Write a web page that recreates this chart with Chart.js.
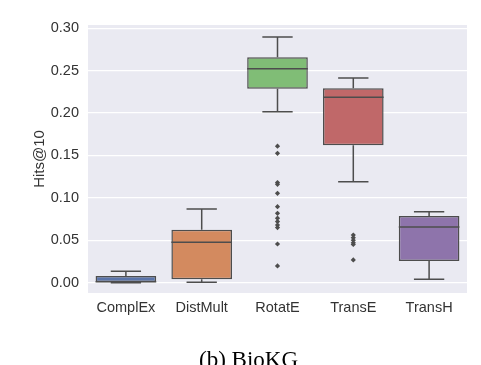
<!DOCTYPE html>
<html>
<head>
<meta charset="utf-8">
<script src="https://cdn.jsdelivr.net/npm/chart.js@4"></script>
<style>
  html, body { margin: 0; padding: 0; background: #fff; overflow: hidden; }
  #wrap { position: relative; width: 481px; height: 365px; }
  #caption {
    position: absolute; left: 0; top: 348px; width: 497px;
    text-align: center; font: 23px/23px "Liberation Serif", serif; color: #000;
  }
</style>
</head>
<body>
<div id="wrap">
  <canvas id="myChart" width="481" height="365"></canvas>
  <div id="caption">(b) BioKG</div>
</div>
<script>
var models = ['ComplEx', 'DistMult', 'RotatE', 'TransE', 'TransH'];
var whiskerLow  = [0.0000, 0.0005, 0.2017, 0.1190, 0.0040];
var boxLow      = [0.0000, 0.0040, 0.2288, 0.1620, 0.0256];
var medians     = [0.0010, 0.0476, 0.2524, 0.2186, 0.0657];
var boxHigh     = [0.0079, 0.0625, 0.2660, 0.2292, 0.0787];
var whiskerHigh = [0.0134, 0.0870, 0.2897, 0.2414, 0.0837];
var outliersRotatE = [0.161, 0.1526, 0.118, 0.116, 0.1054, 0.0896, 0.0818, 0.076, 0.072, 0.068, 0.065, 0.0456, 0.0197];
var outliersTransE = [0.0562, 0.053, 0.050, 0.047, 0.045, 0.0268];
var yTicks = [0, 0.05, 0.10, 0.15, 0.20, 0.25, 0.30];
var boxColors = ['#5a74aa', '#d38a5f', '#80bd76', '#c06869', '#8e74ab'];
var lineColor = '#4d4d4d';

var outlierPoints = [];
outliersRotatE.forEach(function(v) { outlierPoints.push({x: 'RotatE', y: v}); });
outliersTransE.forEach(function(v) { outlierPoints.push({x: 'TransE', y: v}); });

// grey seaborn-style panel behind the plot
var panel = {
    id: 'panel',
    beforeDraw: function(chart) {
        var a = chart.chartArea, ctx = chart.ctx;
        ctx.save();
        ctx.fillStyle = '#eaeaf2';
        ctx.fillRect(a.left, a.top, a.right - a.left, a.bottom - a.top);
        ctx.restore();
    }
};

// whiskers, caps and median lines
var whiskers = {
    id: 'whiskers',
    afterDatasetsDraw: function(chart) {
        var ctx = chart.ctx, xs = chart.scales.x, ys = chart.scales.y;
        var bars = chart.getDatasetMeta(0).data;
        ctx.save();
        ctx.strokeStyle = lineColor;
        ctx.lineWidth = 1.5;
        models.forEach(function(m, i) {
            var x = xs.getPixelForValue(i);
            var half = bars[i].width / 2;
            var cap = half / 2;
            ctx.beginPath();
            ctx.moveTo(x, ys.getPixelForValue(boxHigh[i]));
            ctx.lineTo(x, ys.getPixelForValue(whiskerHigh[i]));
            ctx.moveTo(x - cap, ys.getPixelForValue(whiskerHigh[i]));
            ctx.lineTo(x + cap, ys.getPixelForValue(whiskerHigh[i]));
            ctx.moveTo(x, ys.getPixelForValue(boxLow[i]));
            ctx.lineTo(x, ys.getPixelForValue(whiskerLow[i]));
            ctx.moveTo(x - cap, ys.getPixelForValue(whiskerLow[i]));
            ctx.lineTo(x + cap, ys.getPixelForValue(whiskerLow[i]));
            ctx.moveTo(x - half, ys.getPixelForValue(medians[i]));
            ctx.lineTo(x + half, ys.getPixelForValue(medians[i]));
            ctx.stroke();
        });
        ctx.restore();
    }
};

var ctx = document.getElementById('myChart').getContext('2d');

var myChart = new Chart(ctx, {
    type: 'bar',
    data: {
        labels: models,
        datasets: [
            {
                label: 'box',
                data: models.map(function(m, i) { return [boxLow[i], boxHigh[i]]; }),
                backgroundColor: boxColors,
                borderColor: lineColor,
                borderWidth: 1.5,
                borderSkipped: false,
                categoryPercentage: 0.8,
                barPercentage: 1.0
            },
            {
                type: 'scatter',
                label: 'outliers',
                data: outlierPoints,
                pointStyle: 'rectRot',
                radius: 2.6,
                backgroundColor: lineColor,
                borderColor: lineColor,
                borderWidth: 0
            }
        ]
    },
    options: {
        responsive: false,
        animation: false,
        layout: { padding: { top: 25, right: 14, left: 0, bottom: 42 } },
        plugins: {
            legend: { display: false },
            tooltip: { enabled: false }
        },
        scales: {
            x: {
                type: 'category',
                grid: { display: false, drawTicks: false },
                border: { display: false },
                ticks: {
                    color: '#333',
                    padding: 6,
                    font: { family: 'Liberation Sans', size: 14.5 }
                },
                afterFit: function(scale) { scale.height = 30; }
            },
            y: {
                min: -0.0122,
                max: 0.3039,
                grid: { color: '#ffffff', lineWidth: 1.3, drawTicks: false },
                border: { display: false },
                afterBuildTicks: function(scale) {
                    scale.ticks = yTicks.map(function(v) { return {value: v}; });
                },
                ticks: {
                    color: '#333',
                    padding: 9,
                    font: { family: 'Liberation Sans', size: 14.5 },
                    callback: function(v) { return v.toFixed(2); }
                },
                title: {
                    display: true,
                    text: 'Hits@10',
                    color: '#333',
                    font: { family: 'Liberation Sans', size: 15 },
                    padding: { top: 31, bottom: 0 }
                },
                afterFit: function(scale) { scale.width = 88; }
            }
        }
    },
    plugins: [panel, whiskers]
});
</script>
</body>
</html>
